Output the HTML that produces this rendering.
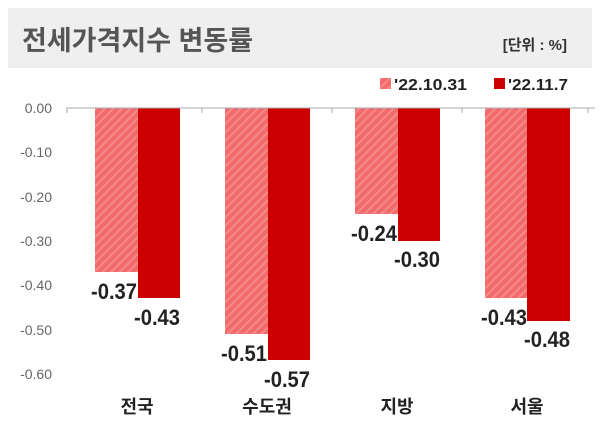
<!DOCTYPE html>
<html><head><meta charset="utf-8"><style>
body{margin:0;background:#fff;width:600px;height:429px;overflow:hidden}
text{font-family:"Liberation Sans","Noto Sans CJK KR",sans-serif}
</style></head><body>
<svg width="600" height="429" xmlns="http://www.w3.org/2000/svg">
<defs>
<pattern id="h" width="6" height="6" patternUnits="userSpaceOnUse" patternTransform="rotate(45)">
<rect width="6" height="6" fill="#f26a6a"/><rect width="2" height="6" fill="#f58a8a"/>
</pattern>
</defs>
<rect x="8" y="8" width="584" height="60" fill="#efefef"/>
<text x="22" y="50" font-size="27" font-weight="bold" fill="#555">전세가격지수 변동률</text>
<text x="567" y="50" font-size="15" font-weight="bold" fill="#333" text-anchor="end">[단위 : %]</text>
<rect x="380" y="78" width="11" height="11" fill="url(#h)"/>
<text x="394" y="90" font-size="16" font-weight="bold" fill="#222" textLength="73" lengthAdjust="spacingAndGlyphs">'22.10.31</text>
<rect x="494" y="78" width="11" height="11" fill="#cc0000"/>
<text x="508" y="90" font-size="16" font-weight="bold" fill="#222" textLength="60" lengthAdjust="spacingAndGlyphs">'22.11.7</text>
<g font-size="14" fill="#666" text-anchor="end">
<text x="52" y="113">0.00</text><text x="52" y="157">-0.10</text><text x="52" y="202">-0.20</text>
<text x="52" y="246">-0.30</text><text x="52" y="290">-0.40</text><text x="52" y="335">-0.50</text><text x="52" y="379">-0.60</text>
</g>
<g fill="url(#h)">
<rect x="95" y="108" width="43" height="164"/>
<rect x="225" y="108" width="43" height="226"/>
<rect x="355" y="108" width="43" height="106"/>
<rect x="485" y="108" width="42" height="190"/>
</g>
<g fill="#cc0000">
<rect x="138" y="108" width="42" height="190"/>
<rect x="268" y="108" width="42" height="252"/>
<rect x="398" y="108" width="42" height="133"/>
<rect x="527" y="108" width="43" height="213"/>
</g>
<line x1="66" y1="108" x2="595" y2="108" stroke="#aaa"/>
<g stroke="#aaa"><line x1="67" y1="108" x2="67" y2="113"/><line x1="202" y1="108" x2="202" y2="113"/><line x1="332" y1="108" x2="332" y2="113"/><line x1="462" y1="108" x2="462" y2="113"/><line x1="588" y1="108" x2="588" y2="113"/></g>
<g font-size="22" font-weight="bold" fill="#222" text-anchor="middle" lengthAdjust="spacingAndGlyphs">
<text x="114" y="299" textLength="46" lengthAdjust="spacingAndGlyphs">-0.37</text><text x="157" y="325" textLength="46" lengthAdjust="spacingAndGlyphs">-0.43</text>
<text x="244" y="361" textLength="46" lengthAdjust="spacingAndGlyphs">-0.51</text><text x="287" y="387" textLength="46" lengthAdjust="spacingAndGlyphs">-0.57</text>
<text x="374" y="241" textLength="46" lengthAdjust="spacingAndGlyphs">-0.24</text><text x="417" y="267" textLength="46" lengthAdjust="spacingAndGlyphs">-0.30</text>
<text x="504" y="325" textLength="46" lengthAdjust="spacingAndGlyphs">-0.43</text><text x="547" y="347" textLength="46" lengthAdjust="spacingAndGlyphs">-0.48</text>
</g>
<g font-size="18" font-weight="bold" fill="#222" text-anchor="middle">
<text x="137" y="413">전국</text><text x="267" y="413">수도권</text><text x="397" y="413">지방</text><text x="527" y="413">서울</text>
</g>
</svg>
</body></html>
